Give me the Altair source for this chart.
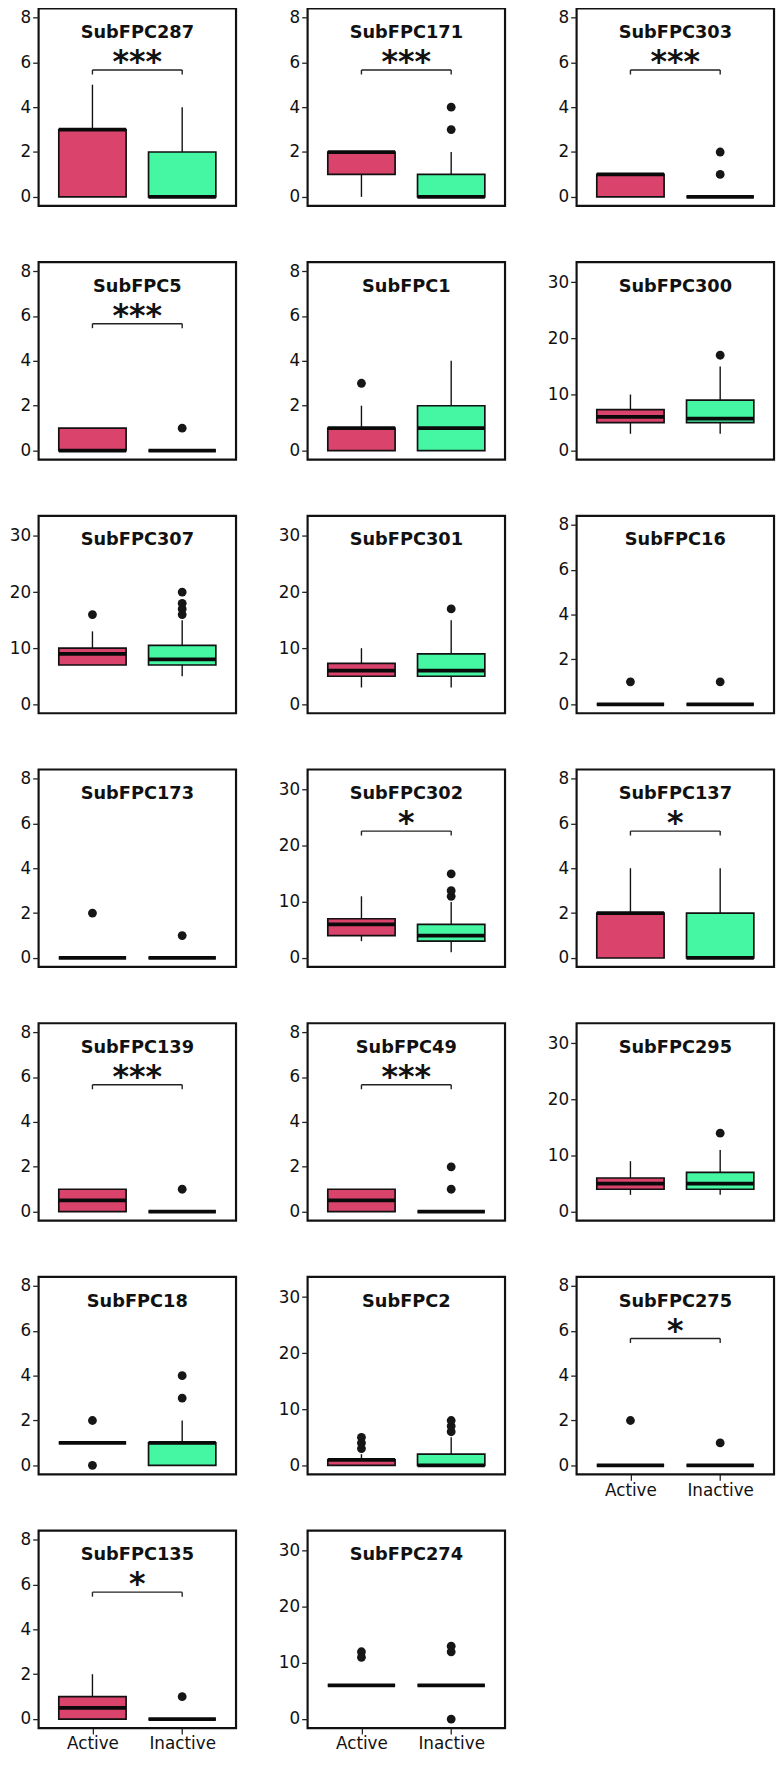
import altair as alt
import pandas as pd

# ---------------- data ----------------
names = ["SubFPC287", "SubFPC171", "SubFPC303", "SubFPC5", "SubFPC1", "SubFPC300",
         "SubFPC307", "SubFPC301", "SubFPC16", "SubFPC173", "SubFPC302", "SubFPC137",
         "SubFPC139", "SubFPC49", "SubFPC295", "SubFPC18", "SubFPC2", "SubFPC275",
         "SubFPC135", "SubFPC274"]
axis_max = [8, 8, 8, 8, 8, 32, 32, 32, 8, 8, 32, 8, 8, 8, 32, 8, 32, 8, 8, 32]
sig = ["***", "***", "***", "***", "", "", "", "", "", "", "*", "*",
       "***", "***", "", "", "", "*", "*", ""]
categories = ["Active", "Inactive"]

# Active group: whisker low, Q1, median, Q3, whisker high
act_lo  = [0, 0, 0, 0, 0, 3,   7, 3,   0, 0, 3, 0, 0,   0,   3, 1, 0, 0, 0,   6]
act_q1  = [0, 1, 0, 0, 0, 5,   7, 5,   0, 0, 4, 0, 0,   0,   4, 1, 0, 0, 0,   6]
act_med = [3, 2, 1, 0, 1, 6,   9, 6,   0, 0, 6, 2, 0.5, 0.5, 5, 1, 1, 0, 0.5, 6]
act_q3  = [3, 2, 1, 1, 1, 7.3, 10, 7.3, 0, 0, 7, 2, 1,   1,   6, 1, 1, 0, 1,   6]
act_hi  = [5, 2, 1, 1, 2, 10,  13, 10,  0, 0, 11, 4, 1,  1,   9, 1, 2, 0, 2,   6]
act_out = [[], [], [], [], [3], [], [16], [], [1], [2], [], [], [], [], [],
           [0, 2], [3, 4, 5], [2], [], [11, 12]]

# Inactive group
ina_lo  = [0, 0, 0, 0, 0, 3,   5,    3, 0, 0, 1,  0, 0, 0, 3,  0, 0, 0, 0, 6]
ina_q1  = [0, 0, 0, 0, 0, 5,   7,    5, 0, 0, 3,  0, 0, 0, 4,  0, 0, 0, 0, 6]
ina_med = [0, 0, 0, 0, 1, 5.7, 8,    6, 0, 0, 4,  0, 0, 0, 5,  1, 0, 0, 0, 6]
ina_q3  = [2, 1, 0, 0, 2, 9,   10.5, 9, 0, 0, 6,  2, 0, 0, 7,  1, 2, 0, 0, 6]
ina_hi  = [4, 2, 0, 0, 4, 15,  15,  15, 0, 0, 10, 4, 0, 0, 11, 2, 5, 0, 0, 6]
ina_out = [[], [3, 4], [1, 2], [1], [], [17], [16, 17, 18, 20], [17], [1], [1],
           [11, 12, 15], [], [1], [1, 2], [14], [3, 4], [6, 7, 8], [1], [1],
           [0, 12, 13]]

# ---------------- styling ----------------
PINK = "#D9436C"
GREEN = "#45F7A3"
INK = "#111111"
FONT = "DejaVu Sans"
W, H = 200, 200
bottom_panels = {17, 18, 19}


def panel(i):
    m = axis_max[i]
    ys = alt.Scale(domain=[-0.05 * m, 1.05 * m], nice=False, zero=False)
    xs = alt.Scale(domain=[0.4, 2.6], nice=False, zero=False)
    yvals = [0, 2, 4, 6, 8] if m == 8 else [0, 10, 20, 30]
    yaxis = alt.Axis(values=yvals, title=None, grid=False, domain=False,
                     tickSize=6, tickWidth=1.3, tickColor="#222222",
                     labelPadding=2, labelFont=FONT, labelFontSize=17,
                     labelColor=INK)
    if i in bottom_panels:
        xaxis = alt.Axis(values=[1, 2], title=None, grid=False, domain=False,
                         labelExpr="datum.value == 1 ? 'Active' : 'Inactive'",
                         tickSize=6, tickWidth=1.3, tickColor="#222222",
                         labelPadding=2, labelFont=FONT, labelFontSize=17,
                         labelColor=INK, labelAngle=0)
    else:
        xaxis = None

    def X(f):
        return alt.X(f, type="quantitative", scale=xs, axis=xaxis)

    def Y(f):
        return alt.Y(f, type="quantitative", scale=ys, axis=yaxis)

    box = pd.DataFrame({
        "cat": categories,
        "pos": [1, 2],
        "lo": [act_lo[i], ina_lo[i]],
        "q1": [act_q1[i], ina_q1[i]],
        "med": [act_med[i], ina_med[i]],
        "q3": [act_q3[i], ina_q3[i]],
        "hi": [act_hi[i], ina_hi[i]],
    })
    base = alt.Chart(box).transform_calculate(
        xl="datum.pos - 0.375", xr="datum.pos + 0.375")

    whisk_lo = base.mark_rule(color=INK, strokeWidth=1.4).encode(
        x=X("pos"), y=Y("lo"), y2="q1:Q")
    whisk_hi = base.mark_rule(color=INK, strokeWidth=1.4).encode(
        x=X("pos"), y=Y("q3"), y2="hi:Q")
    rect = base.mark_rect(stroke=INK, strokeWidth=1.7).encode(
        x=X("xl"), x2="xr:Q", y=Y("q1"), y2="q3:Q",
        color=alt.Color("cat:N", scale=alt.Scale(domain=categories,
                                                 range=[PINK, GREEN]),
                        legend=None))
    med = base.mark_rule(color="#0a0a0a", strokeWidth=3.8).encode(
        x=X("xl"), x2="xr:Q", y=Y("med"))
    layers = [whisk_lo, whisk_hi, rect, med]

    pos_out = [1] * len(act_out[i]) + [2] * len(ina_out[i])
    val_out = list(act_out[i]) + list(ina_out[i])
    if val_out:
        out = pd.DataFrame({"pos": pos_out, "val": val_out})
        pts = alt.Chart(out).mark_circle(size=80, color="#161616",
                                         opacity=1).encode(
            x=X("pos"), y=Y("val"))
        layers.append(pts)

    if sig[i]:
        br = 0.707 * m
        dr = 0.025 * m
        seg = pd.DataFrame({"x": [1, 1, 2], "x2": [2, 1, 2],
                            "y": [br, br - dr, br - dr], "y2": [br, br, br]})
        bracket = alt.Chart(seg).mark_rule(color="#222222",
                                           strokeWidth=1.4).encode(
            x=X("x"), x2="x2:Q", y=Y("y"), y2="y2:Q")
        stars = alt.Chart(pd.DataFrame({"x": [1.5], "y": [0.695 * m],
                                        "t": [sig[i]]})).mark_text(
            font=FONT, fontSize=32, fontWeight="bold", baseline="alphabetic",
            align="center", color=INK).encode(x=X("x"), y=Y("y"), text="t:N")
        layers += [bracket, stars]

    # panel name, placed inside the frame near its top
    ttl = alt.Chart(pd.DataFrame({"x": [1.5], "y": [0.885 * m],
                                  "t": [names[i]]})).mark_text(
        font=FONT, fontSize=18, fontWeight="bold", baseline="alphabetic",
        align="center", color=INK).encode(x=X("x"), y=Y("y"), text="t:N")
    layers.append(ttl)

    return alt.layer(*layers).properties(width=W, height=H)


charts = [panel(i) for i in range(len(names))]

chart = alt.concat(
    *charts, columns=3, bounds="flush",
    spacing={"row": 57, "column": 72.5},
    padding={"left": 0, "top": -13, "right": 0, "bottom": 0},
    background="white",
).configure_view(stroke=INK, strokeWidth=2.2)

chart.save("out.html", embed_options={"renderer": "svg", "actions": False})
